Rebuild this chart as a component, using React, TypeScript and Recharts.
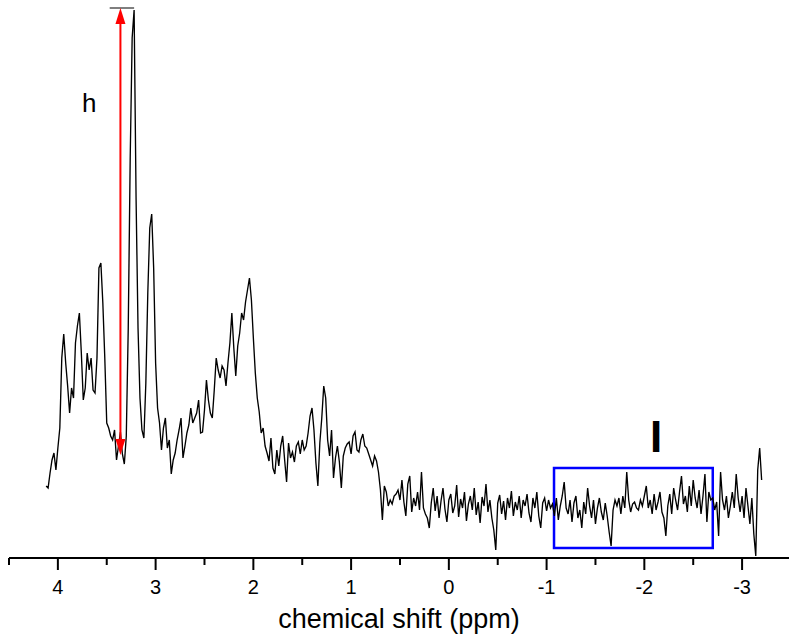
import React from 'react';
import { LineChart, Line, XAxis, YAxis, ReferenceLine, ReferenceArea, ReferenceDot } from 'recharts';

// Chemical shift grid (ppm), high field on the right
const SHIFT_FIRST = 4.12;
const SHIFT_STEP = 0.02;

// Spectrum intensity (arbitrary units), one value per grid point
const intensity = [
  72, 70, 85, 98, 105, 88, 110, 130, 200, 224,
  195, 172, 145, 170, 160, 215, 232, 245, 205, 158,
  170, 205, 188, 200, 168, 165, 200, 290, 295, 255,
  200, 135, 130, 122, 118, 128, 98, 112, 126, 104,
  94, 122, 230, 400, 520, 548, 360, 230, 160, 128,
  120, 175, 265, 330, 344, 290, 195, 150, 135, 108,
  130, 140, 110, 118, 84, 98, 105, 118, 128, 140,
  100, 112, 125, 133, 150, 135, 140, 145, 158, 125,
  126, 148, 178, 158, 145, 140, 168, 200, 188, 180,
  192, 188, 172, 195, 215, 245, 210, 182, 212, 225,
  245, 238, 256, 268, 280, 258, 220, 185, 160, 146,
  125, 130, 112, 105, 97, 120, 90, 84, 108, 92,
  112, 122, 98, 76, 115, 100, 106, 96, 112, 116,
  104, 118, 108, 112, 125, 142, 150, 128, 95, 72,
  115, 140, 172, 160, 118, 102, 128, 80, 100, 112,
  96, 70, 102, 110, 114, 116, 104, 122, 126, 108,
  106, 118, 124, 112, 110, 104, 98, 92, 102, 97,
  86, 68, 38, 72, 66, 52, 58, 54, 62, 64,
  68, 58, 78, 56, 42, 74, 82, 46, 60, 52,
  66, 48, 86, 50, 44, 40, 30, 55, 70, 47,
  62, 40, 57, 70, 49, 36, 58, 64, 45, 52,
  73, 41, 59, 50, 66, 37, 54, 62, 48, 70,
  43, 56, 35, 61, 52, 74, 46, 58, 40, 28,
  8, 55, 63, 44, 57, 38, 60, 50, 67, 42,
  56, 48, 62, 40, 58, 52, 64, 45, 36, 60,
  50, 66, 42, 30, 55, 60, 47, 58, 50, 54,
  42, 60, 38, 52, 62, 76, 50, 44, 58, 36,
  55, 62, 40, 48, 30, 56, 44, 70, 52, 40,
  58, 34, 50, 60, 46, 38, 55, 42, 26, 12,
  48, 58, 52, 60, 44, 62, 50, 86, 58, 46,
  54, 56, 50, 48, 58, 52, 62, 72, 50, 58,
  44, 64, 48, 56, 66, 46, 40, 22, 52, 64,
  44, 70, 58, 48, 66, 82, 54, 62, 46, 72,
  52, 78, 60, 50, 68, 44, 62, 84, 36, 66,
  58, 60, 48, 56, 22, 86, 58, 48, 62, 40,
  52, 66, 50, 84, 60, 46, 62, 40, 70, 52,
  34, 60, 24, 2, 88, 110, 78,
];

const shift = intensity.map((_, i) => Number((SHIFT_FIRST - i * SHIFT_STEP).toFixed(2)));

const majorTicks = [4, 3, 2, 1, 0, -1, -2, -3];
const minorTicks = [4.5, 3.5, 2.5, 1.5, 0.5, -0.5, -1.5, -2.5];
const allTicks = [...minorTicks, ...majorTicks].sort((a, b) => b - a);

const X_DOMAIN = [-3.48, 4.5];
const Y_DOMAIN = [0, 550];

// Annotations (data coordinates)
const arrowShift = 3.36;
const arrowBottom = 103;
const arrowTop = 550;
const capFrom = 3.47;
const capTo = 3.22;
const hLabel = { x: 3.68, y: 446, text: 'h' };
const boxArea = { x1: -1.076, x2: -2.7, y1: 10, y2: 90 };
const iLabel = { x: -2.12, y: 106, text: 'I' };

const data = shift.map((ppm, i) => ({ ppm, value: intensity[i] }));

const FONT = '"Liberation Sans", Arial, Helvetica, sans-serif';

const AxisTick = (props: any) => {
  const { x, y, payload } = props;
  const v = payload.value;
  const major = Number.isInteger(v);
  return (
    <g>
      <line x1={x} x2={x} y1={y} y2={y + (major ? 12 : 7)} stroke="#000" strokeWidth={2} />
      {major && (
        <text x={x} y={y + 36} textAnchor="middle" fontSize={20} fill="#000" fontFamily={FONT}>
          {String(v)}
        </text>
      )}
    </g>
  );
};

const ArrowShape = (props: any) => {
  const { x1, y1, x2, y2 } = props;
  const x = x1;
  const bottom = Math.max(y1, y2);
  const top = Math.min(y1, y2);
  const head = 16;
  const hw = 5;
  return (
    <g>
      <line x1={x} x2={x2} y1={top + 8} y2={bottom - 8} stroke="#ff0000" strokeWidth={2} />
      <polygon points={`${x},${top} ${x - hw},${top + head} ${x + hw},${top + head}`} fill="#ff0000" />
      <polygon points={`${x},${bottom} ${x - hw},${bottom - head} ${x + hw},${bottom - head}`} fill="#ff0000" />
    </g>
  );
};

const makeTextShape = (text: string, size: number, weight: string) => (props: any) => (
  <text x={props.cx} y={props.cy} textAnchor="middle" fontSize={size} fontWeight={weight} fill="#000" fontFamily={FONT}>
    {text}
  </text>
);

export default function App() {
  return (
    <div style={{ position: 'absolute', left: 0, top: 0, width: 789, height: 638, background: '#fff' }}>
      <LineChart
        width={789}
        height={638}
        data={data}
        margin={{ top: 8, right: 0, left: 9, bottom: 0 }}
        style={{ fontFamily: FONT }}
      >
        <XAxis
          dataKey="ppm"
          type="number"
          domain={X_DOMAIN}
          reversed
          allowDataOverflow
          ticks={allTicks}
          interval={0}
          tick={<AxisTick />}
          tickLine={false}
          tickSize={0}
          tickMargin={0}
          height={80}
          axisLine={{ stroke: '#000', strokeWidth: 2 }}
          label={{
            value: 'chemical shift (ppm)',
            position: 'insideBottom',
            offset: 10,
            fontSize: 27,
            fill: '#000',
            fontFamily: FONT,
          }}
        />
        <YAxis type="number" domain={Y_DOMAIN} hide allowDataOverflow />
        <Line
          type="linear"
          dataKey="value"
          stroke="#000"
          strokeWidth={1.35}
          dot={false}
          isAnimationActive={false}
        />
        <ReferenceArea
          x1={boxArea.x1}
          x2={boxArea.x2}
          y1={boxArea.y1}
          y2={boxArea.y2}
          fill="none"
          fillOpacity={0}
          stroke="#0000ff"
          strokeWidth={2.5}
        />
        <ReferenceLine
          segment={[{ x: capFrom, y: arrowTop }, { x: capTo, y: arrowTop }]}
          stroke="#555"
          strokeWidth={1.5}
        />
        <ReferenceLine
          segment={[{ x: arrowShift, y: arrowBottom }, { x: arrowShift, y: arrowTop }]}
          shape={ArrowShape}
        />
        <ReferenceDot x={hLabel.x} y={hLabel.y} r={0} shape={makeTextShape(hLabel.text, 26, 'normal')} />
        <ReferenceDot x={iLabel.x} y={iLabel.y} r={0} shape={makeTextShape(iLabel.text, 44, 'bold')} />
      </LineChart>
    </div>
  );
}
